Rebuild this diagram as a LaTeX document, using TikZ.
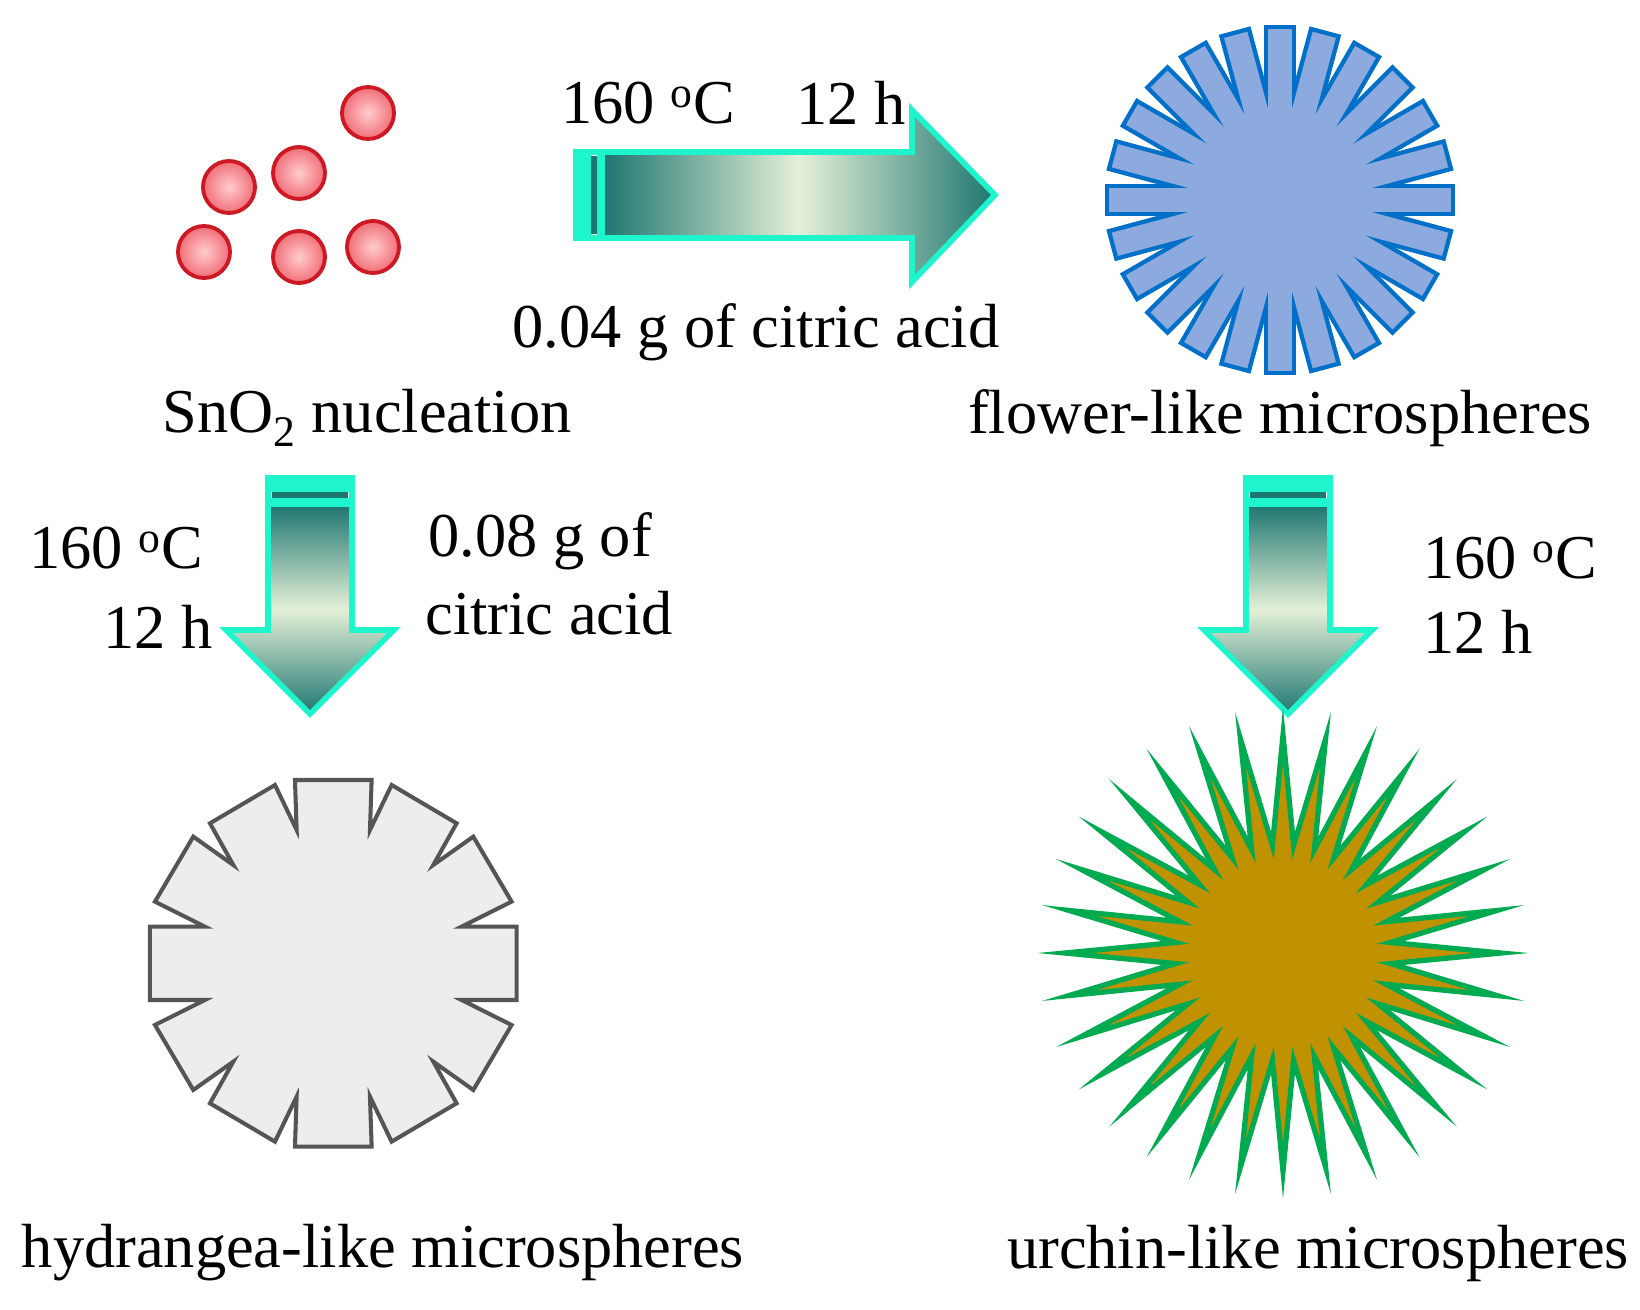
\documentclass[tikz,border=0pt]{standalone}
\usepackage{fontspec}
\setmainfont{Liberation Serif}
\definecolor{tdark}{RGB}{30,118,112}
\definecolor{tlight}{RGB}{228,240,215}
\definecolor{cyanb}{RGB}{30,245,205}
\definecolor{redb}{RGB}{205,25,35}
\definecolor{pinkc}{RGB}{255,205,205}
\definecolor{pinko}{RGB}{240,110,120}
\definecolor{flfill}{RGB}{140,170,222}
\definecolor{flline}{RGB}{0,112,200}
\definecolor{gold}{RGB}{192,145,0}
\definecolor{greenu}{RGB}{0,170,80}
\definecolor{hyfill}{RGB}{237,237,237}
\definecolor{hyline}{RGB}{85,85,85}
\begin{document}
\begin{tikzpicture}[x=0.02cm,y=-0.02cm,
  lbl/.style={font=\fontsize{35.5}{40}\selectfont, inner sep=0pt},
  ball/.style={circle, minimum size=52*0.02cm, inner sep=0pt, draw=redb, line width=2.2pt, inner color=pinkc, outer color=pinko},
  arrb/.style={draw=cyanb, line width=3.2pt, line join=miter}]
\useasboundingbox (0,0) rectangle (1640,1309);
% particles
\node[ball] (p1) at (368,113) {};
\node[ball] (p2) at (229,187) {};
\node[ball] (p3) at (299,173) {};
\node[ball] (p4) at (204,252) {};
\node[ball] (p5) at (299,257) {};
\node[ball] (p6) at (373,247) {};
% right arrow
\shade[left color=tdark, right color=tdark, middle color=tlight]
  (603,152) -- (912,152) -- (912,110) -- (995,195) -- (912,282) -- (912,238) -- (603,238) -- cycle;
\fill[cyanb] (576,152) rectangle (591,238);
\fill[tdark] (591,156) rectangle (597,234);
\fill[cyanb] (597,152) rectangle (605,238);
\draw[arrb] (576,152) -- (912,152) -- (912,110) -- (995,195) -- (912,282) -- (912,238) -- (576,238) -- cycle;
% down arrows
\foreach \cx/\nm in {310/la, 1288/ra}{
  \shade[top color=tdark, bottom color=tdark, middle color=tlight]
    (\cx-42,505) -- (\cx+42,505) -- (\cx+42,630) -- (\cx+84,630) -- (\cx,714) -- (\cx-84,630) -- (\cx-42,630) -- cycle;
  \fill[cyanb] (\cx-42,478) rectangle (\cx+42,492);
  \fill[tdark] (\cx-38,492) rectangle (\cx+38,498);
  \fill[cyanb] (\cx-42,498) rectangle (\cx+42,507);
  \draw[arrb] (\cx-42,478) -- (\cx+42,478) -- (\cx+42,630) -- (\cx+84,630) -- (\cx,714) -- (\cx-84,630) -- (\cx-42,630) -- cycle;
}
% flower
\begin{scope}[shift={(1280,200)}]
  \foreach \a in {0,15,...,345}{
    \draw[rotate=\a, flline, line width=5pt] (60,-12) rectangle (171,12);}
  \foreach \a in {0,15,...,345}{
    \fill[rotate=\a, flfill] (60,-12) rectangle (171,12);}
  \fill[flfill] (0,0) circle (88);
\end{scope}
% urchin
\begin{scope}[shift={(1283,953)}]
  \fill[gold, draw=greenu, line width=3pt, line join=miter, miter limit=20]
    (90:218) \foreach \k in {1,...,32}{ -- ({90+\k*11.25-5.625}:108) -- ({90+\k*11.25}:218)} -- cycle;
\end{scope}
% hydrangea
\begin{scope}[shift={(333.3,963.3)}, scale=1/3, yscale=-1]
  \draw[fill=hyfill, draw=hyline, line width=2.3pt]
  (115,550) -- (-115,550) -- (-110,400) -- (-175,535) -- (-370,420) -- (-300,295) -- (-420,380) -- (-535,185) -- (-385,110) -- (-550,110) -- (-550,-110) -- (-385,-110) -- (-535,-185) -- (-420,-380) -- (-300,-295) -- (-370,-420) -- (-175,-535) -- (-110,-400) -- (-115,-550) -- (115,-550) -- (110,-400) -- (175,-535) -- (370,-420) -- (300,-295) -- (420,-380) -- (535,-185) -- (385,-110) -- (550,-110) -- (550,110) -- (385,110) -- (535,185) -- (420,380) -- (300,295) -- (370,420) -- (175,535) -- (110,400) -- cycle;
\end{scope}
% labels
\node[lbl] (t1) at (648,103) {160 \textsuperscript{o}C};
\node[lbl] (t2) at (851,103) {12 h};
\node[lbl] (t3) at (756,332) {0.04 g of citric acid};
\node[lbl] (sn) at (367,418) {SnO\textsubscript{2} nucleation};
\node[lbl] (fl) at (1280,418) {flower-like microspheres};
\node[lbl, anchor=west] (l1) at (29,548) {160 \textsuperscript{o}C};
\node[lbl, anchor=east] (l2) at (213,627) {12 h};
\node[lbl, anchor=west] (l3) at (428,541) {0.08 g of};
\node[lbl, anchor=west] (l4) at (425,613) {citric acid};
\node[lbl, anchor=west] (r1) at (1423,558) {160 \textsuperscript{o}C};
\node[lbl, anchor=west] (r2) at (1423,632) {12 h};
\node[lbl] (hy) at (383,1253) {hydrangea-like microspheres};
\node[lbl] (ur) at (1318,1253) {urchin-like microspheres};
\end{tikzpicture}
\end{document}
